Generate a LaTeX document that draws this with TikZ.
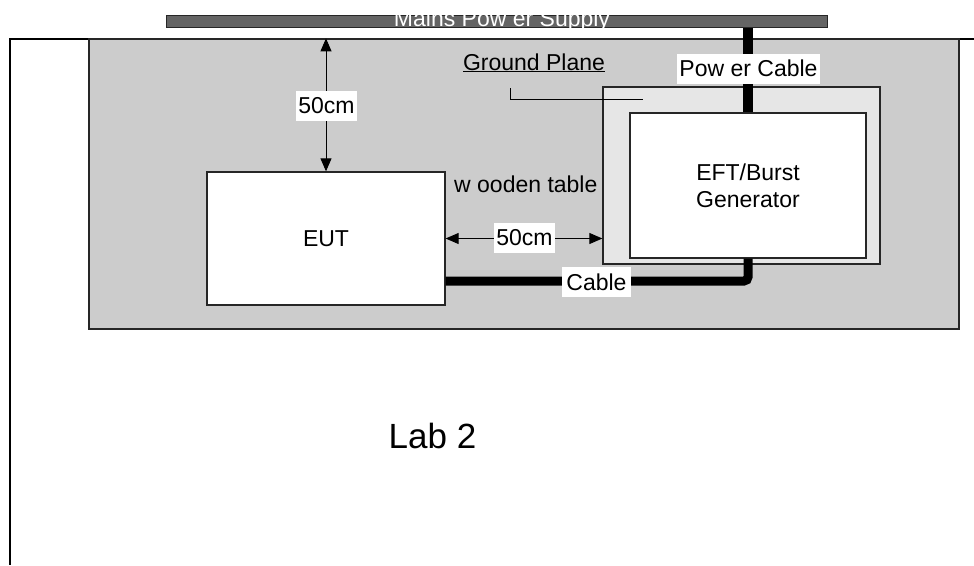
\documentclass[tikz,border=0pt]{standalone}
\usepackage{fontspec}
\setmainfont{Liberation Sans}
\usetikzlibrary{arrows.meta}
\definecolor{tablegray}{RGB}{204,204,204}
\definecolor{planegray}{RGB}{230,230,230}
\definecolor{bargray}{RGB}{100,100,100}
\begin{document}
\begin{tikzpicture}[x=1pt,y=-1pt,
  every node/.style={font=\fontsize{23}{27}\selectfont, inner sep=0pt},
  border/.style={draw=black!85, line width=1.3pt},
  box/.style={border, rectangle, anchor=center},
  whitelabel/.style={fill=white, inner xsep=2pt, minimum height=30pt},
  dimarrow/.style={line width=0.9pt, {Triangle[length=13pt,width=11pt]}-{Triangle[length=13pt,width=11pt]}},
  cablestyle/.style={line width=9pt, rounded corners=4pt},
  powerstyle/.style={line width=10pt}
]
\useasboundingbox (0,0) rectangle (974,565);
% lab outline
\coordinate (labtr) at (974,39);
\coordinate (labtl) at (10,39);
\coordinate (labbl) at (10,565);
\draw[line width=1.3pt] (labtr) -- (labtl) -- (labbl);
% wooden table
\node[box, fill=tablegray, minimum width=870pt, minimum height=290pt] (table) at (524,184) {};
% mains bar
\node[box, fill=bargray, line width=1pt, minimum width=661pt, minimum height=12pt] (bar) at (496.5,21) {};
\begin{scope}
  \clip (bar.south west) rectangle (bar.north east);
  \node[text=white, anchor=base] (mains) at (502,26.5) {Mains Pow er Supply};
\end{scope}
% ground plane and generator
\node[box, fill=planegray, minimum width=277pt, minimum height=177pt] (gp) at (741.5,175.5) {};
\node[box, fill=white, minimum width=236pt, minimum height=145pt, align=center] (eft) at (748,185.5) {EFT/Burst\\Generator};
% EUT
\node[box, fill=white, minimum width=238pt, minimum height=133pt] (eut) at (326,238.5) {EUT};
% power cable
\draw[powerstyle] (bar.south -| eft.north) -- (eft.north);
\node[whitelabel] (pclabel) at (748.5,68.5) {Pow er Cable};
% cable
\coordinate (cbend) at (748,281);
\draw[cablestyle] (eut.east |- cbend) -- (cbend) -- (eft.south -| cbend);
\node[whitelabel, inner xsep=4pt] (cablelabel) at (596.5,282) {Cable};
% distance arrows
\draw[dimarrow] (eut.east) -- (gp.west |- eut.east);
\node[whitelabel] (hdist) at (524.5,238) {50cm};
\draw[dimarrow] (eut.north |- table.north) -- (eut.north);
\node[whitelabel] (vdist) at (326.5,106) {50cm};
% ground plane label
\node[anchor=base] (gplabel) at (534,70) {\underline{Ground Plane}};
\coordinate (ldA) at (510,88);
\coordinate (ldB) at (510,99);
\coordinate (ldC) at (643,99);
\draw[line width=1pt] (ldA) -- (ldB) -- (ldC);
% wooden table label
\node[anchor=base west] (wood) at (454,192) {w ooden table};
% lab label
\node[font=\fontsize{35}{40}\selectfont, anchor=base] (lab) at (432.5,448) {Lab 2};
\end{tikzpicture}
\end{document}
